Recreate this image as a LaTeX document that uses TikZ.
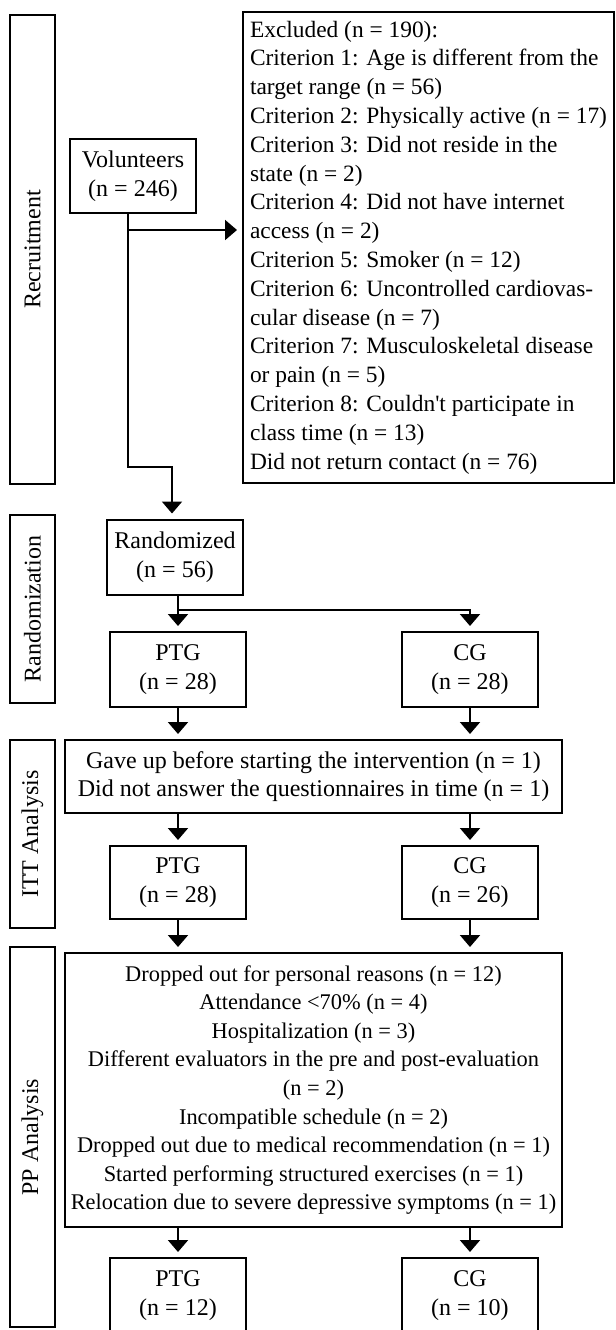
\documentclass[tikz,border=0pt]{standalone}
\usepackage{fontspec}
\setmainfont{Liberation Serif}
\usetikzlibrary{arrows.meta}

\begin{document}
\begin{tikzpicture}[x=0.5pt,y=-0.5pt,
        box/.style={draw,line width=1pt,align=center,inner sep=0pt,font=\fontsize{12}{14.4}\selectfont},
        fase/.style={box,rotate=90,minimum height=22.5pt},
        grp/.style={box,minimum width=68pt,minimum height=37.5pt},
        freccia/.style={line width=1pt,-{Triangle[width=10pt,length=6pt]},shorten >=2.5pt}]

        \useasboundingbox (0,0) rectangle (616,1330);

        % Etichette delle fasi
        \node[fase,minimum width=234.5pt] (rec) at (32.5,249.5) {Recruitment};
        \node[fase,minimum width=94pt] (rnd) at (32.5,609) {Randomization};
        \node[fase,minimum width=94pt] (ittl) at (32.5,834) {ITT Analysis};
        \node[fase,minimum width=190pt] (ppl) at (32.5,1137) {PP Analysis};

        % Reclutamento
        \node[grp,minimum width=63pt,minimum height=37pt] (vol) at (133,176) {Volunteers\\(n = 246)};
        \node[box,align=left,font=\fontsize{11.7}{14.4}\selectfont,
            minimum width=185.5pt,minimum height=235.5pt] (excl) at (428.5,247.5) {Excluded (n = 190):\\
            Criterion 1: Age is different from the\\
            target range (n = 56)\\
            Criterion 2: Physically active (n = 17)\\
            Criterion 3: Did not reside in the\\
            state (n = 2)\\
            Criterion 4: Did not have internet\\
            access (n = 2)\\
            Criterion 5: Smoker (n = 12)\\
            Criterion 6: Uncontrolled cardiovas-\\
            cular disease (n = 7)\\
            Criterion 7: Musculoskeletal disease\\
            or pain (n = 5)\\
            Criterion 8: Couldn{\textquotesingle}t participate in\\
            class time (n = 13)\\
            Did not return contact (n = 76)};

        % Randomizzazione
        \node[grp] (rand) at (175,557) {Randomized\\(n = 56)};
        \node[grp] (ptgA) at (178,669.5) {PTG\\(n = 28)};
        \node[grp] (cgA) at (470,669.5) {CG\\(n = 28)};

        % Analisi ITT
        \node[box,minimum width=248.5pt,minimum height=36.5pt] (itt) at (313.5,776.5) {Gave up before starting the intervention (n = 1)\\
            Did not answer the questionnaires in time (n = 1)};
        \node[grp,minimum height=36.5pt] (ptgB) at (178,882.5) {PTG\\(n = 28)};
        \node[grp,minimum height=36.5pt] (cgB) at (470,882.5) {CG\\(n = 26)};

        % Analisi PP
        \node[box,font=\fontsize{11.2}{14.3}\selectfont,
            minimum width=248.5pt,minimum height=137pt] (pp) at (313.5,1090) {Dropped out for personal reasons (n = 12)\\
            Attendance <70\% (n = 4)\\
            Hospitalization (n = 3)\\
            Different evaluators in the pre and post-evaluation\\
            (n = 2)\\
            Incompatible schedule (n = 2)\\
            Dropped out due to medical recommendation (n = 1)\\
            Started performing structured exercises (n = 1)\\
            Relocation due to severe depressive symptoms (n = 1)};
        \node[grp] (ptgC) at (178,1295.5) {PTG\\(n = 12)};
        \node[grp] (cgC) at (470,1295.5) {CG\\(n = 10)};

        % Punti di snodo
        \coordinate (j0) at (128,230);
        \coordinate (j2) at (172,467);
        \coordinate (sp) at (178,610);

        % Frecce
        \draw[freccia] (vol.south -| j0) |- (j2) -- (j2 |- rand.north);
        \draw[freccia] (j0) -- (j0 -| excl.west);
        \draw[freccia] (rand.south -| sp) -- (ptgA.north);
        \draw[freccia] (sp) -| (cgA.north);
        \draw[freccia] (ptgA.south) -- (ptgA.south |- itt.north);
        \draw[freccia] (cgA.south) -- (cgA.south |- itt.north);
        \draw[freccia] (itt.south -| ptgB) -- (ptgB.north);
        \draw[freccia] (itt.south -| cgB) -- (cgB.north);
        \draw[freccia] (ptgB.south) -- (ptgB.south |- pp.north);
        \draw[freccia] (cgB.south) -- (cgB.south |- pp.north);
        \draw[freccia] (pp.south -| ptgC) -- (ptgC.north);
        \draw[freccia] (pp.south -| cgC) -- (cgC.north);

\end{tikzpicture}
\end{document}
